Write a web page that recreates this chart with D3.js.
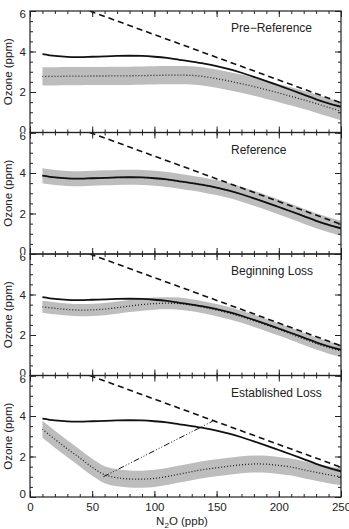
<!DOCTYPE html>
<html>
<head>
<meta charset="utf-8">
<script src="https://cdn.jsdelivr.net/npm/d3@7"></script>
<style>
  body { margin: 0; background: #fff; }
  svg { display: block; font-family: "Liberation Sans", Arial, sans-serif; }
  .tick text { fill: #222; }
</style>
</head>
<body>
<div id="chart"></div>
<script>
// N2O grid (ppb) shared by every curve
const n2o = [10, 20, 30, 40, 50, 60, 70, 80, 90, 100, 110, 120, 130, 140, 150, 160, 170, 180, 190, 200, 210, 220, 230, 240, 250];

// Reference fit (solid), same in every panel
const referenceOzone = [3.87, 3.78, 3.73, 3.72, 3.74, 3.76, 3.78, 3.79, 3.78, 3.74, 3.68, 3.59, 3.50, 3.40, 3.28, 3.13, 2.95, 2.75, 2.54, 2.32, 2.10, 1.87, 1.64, 1.44, 1.27];

// Dashed line end points
const dashedN2o = [48, 250];
const dashedOzone = [6.0, 1.47];

// Per-panel fits (dotted) and the half-width of their grey band
const panelNames = ["Pre\u2212Reference", "Reference", "Beginning Loss", "Established Loss"];
const preRefOzone = [2.77, 2.77, 2.78, 2.78, 2.79, 2.79, 2.80, 2.80, 2.81, 2.82, 2.83, 2.83, 2.82, 2.76, 2.66, 2.54, 2.41, 2.27, 2.11, 1.95, 1.78, 1.61, 1.43, 1.24, 1.05];
const refOzone = referenceOzone;
const beginLossOzone = [3.39, 3.32, 3.26, 3.23, 3.24, 3.28, 3.35, 3.43, 3.50, 3.55, 3.57, 3.55, 3.47, 3.36, 3.23, 3.08, 2.90, 2.70, 2.49, 2.27, 2.04, 1.81, 1.58, 1.38, 1.22];
const estLossOzone = [3.34, 2.85, 2.38, 1.93, 1.47, 1.10, 0.95, 0.89, 0.88, 0.92, 1.01, 1.13, 1.25, 1.36, 1.44, 1.52, 1.59, 1.63, 1.62, 1.56, 1.48, 1.34, 1.22, 1.10, 1.00];
const panelFits = [preRefOzone, refOzone, beginLossOzone, estLossOzone];
const bandHalfWidth = [0.45, 0.37, 0.3, 0.42];

// Dash-dot segment in the last panel
const lossN2o = [59, 147];
const lossOzone = [1.0, 3.75];

const xTicks = [0, 50, 100, 150, 200, 250];
const yTicks = [0, 2, 4, 6];

const width = 349, height = 529;
const margin = { top: 11, left: 30, right: 8 };
const panelH = 121.5;
const innerW = width - margin.left - margin.right;

const svg = d3.select("#chart").append("svg").attr("width", width).attr("height", height);
const defs = svg.append("defs");

const x = d3.scaleLinear().domain([0, 250]).range([margin.left, margin.left + innerW]);
const ink = "#222";

panelNames.forEach((name, i) => {
  const top = margin.top + i * panelH;
  const bottom = top + panelH;
  const y = d3.scaleLinear().domain([0, 6]).range([bottom, top]);

  // clip for marks
  defs.append("clipPath").attr("id", "plot" + i)
    .append("rect").attr("x", x(0)).attr("y", top).attr("width", innerW).attr("height", panelH);
  // clip for y labels (panels share their edges)
  const clipTop = i === 0 ? 0 : top;
  const clipBottom = i === panelNames.length - 1 ? height : bottom;
  defs.append("clipPath").attr("id", "lab" + i)
    .append("rect").attr("x", 0).attr("width", margin.left)
    .attr("y", clipTop).attr("height", clipBottom - clipTop);

  const g = svg.append("g");
  const marks = g.append("g").attr("clip-path", `url(#plot${i})`);

  const fit = panelFits[i];
  const pts = n2o.map((d, k) => ({ x: d, y: fit[k] }));
  const curve = d3.curveCatmullRom;

  const area = d3.area().curve(curve)
    .x(d => x(d.x))
    .y0(d => y(d.y - bandHalfWidth[i]))
    .y1(d => y(d.y + bandHalfWidth[i]));
  marks.append("path").attr("d", area(pts)).attr("fill", "#bdbdbd");

  const line = d3.line().curve(curve).x(d => x(d.x)).y(d => y(d.y));
  marks.append("path").attr("d", line(pts))
    .attr("fill", "none").attr("stroke", ink).attr("stroke-width", 1.3)
    .attr("stroke-dasharray", "1,2");

  const refPts = n2o.map((d, k) => ({ x: d, y: referenceOzone[k] }));
  marks.append("path").attr("d", line(refPts))
    .attr("fill", "none").attr("stroke", "#111").attr("stroke-width", 1.8);

  const dashPts = dashedN2o.map((d, k) => ({ x: d, y: dashedOzone[k] }));
  marks.append("path").attr("d", d3.line().x(d => x(d.x)).y(d => y(d.y))(dashPts))
    .attr("fill", "none").attr("stroke", "#111").attr("stroke-width", 1.6)
    .attr("stroke-dasharray", "6,4");

  if (i === 3) {
    const lossPts = lossN2o.map((d, k) => ({ x: d, y: lossOzone[k] }));
    marks.append("path").attr("d", d3.line().x(d => x(d.x)).y(d => y(d.y))(lossPts))
      .attr("fill", "none").attr("stroke", "#111").attr("stroke-width", 1)
      .attr("stroke-dasharray", "6,2,1,2,1,2,1,2");
  }

  // ticks on all four sides, pointing in
  const tickStyle = sel => {
    sel.select(".domain").remove();
    sel.selectAll(".tick line").attr("stroke", ink).attr("stroke-width", 1);
  };
  const minorX = d3.range(0, 251, 10);
  const minorY = d3.range(0, 6.01, 0.5);
  g.append("g").attr("transform", `translate(0,${bottom})`)
    .call(d3.axisBottom(x).tickValues(minorX).tickSize(-3).tickFormat("")).call(tickStyle);
  g.append("g").attr("transform", `translate(0,${bottom})`)
    .call(d3.axisBottom(x).tickValues(xTicks).tickSize(-6).tickFormat("")).call(tickStyle);
  g.append("g").attr("transform", `translate(0,${top})`)
    .call(d3.axisTop(x).tickValues(minorX).tickSize(-3).tickFormat("")).call(tickStyle);
  g.append("g").attr("transform", `translate(0,${top})`)
    .call(d3.axisTop(x).tickValues(xTicks).tickSize(-6).tickFormat("")).call(tickStyle);
  g.append("g").attr("transform", `translate(${x(0)},0)`)
    .call(d3.axisLeft(y).tickValues(minorY).tickSize(-3).tickFormat("")).call(tickStyle);
  g.append("g").attr("transform", `translate(${x(250)},0)`)
    .call(d3.axisRight(y).tickValues(minorY).tickSize(-3).tickFormat("")).call(tickStyle);
  g.append("g").attr("transform", `translate(${x(250)},0)`)
    .call(d3.axisRight(y).tickValues(yTicks).tickSize(-6).tickFormat("")).call(tickStyle);
  g.append("g").attr("transform", `translate(${x(0)},0)`)
    .call(d3.axisLeft(y).tickValues(yTicks).tickSize(-6).tickFormat("")).call(tickStyle);

  // y labels, clipped so neighbouring panels share the edge label;
  // the end labels sit a little inside the panel
  const labelWrap = g.append("g").attr("clip-path", `url(#lab${i})`);
  const yAxis = labelWrap.append("g").attr("transform", `translate(${x(0)},0)`)
    .call(d3.axisLeft(y).tickValues(yTicks).tickSize(0).tickPadding(4).tickFormat(d3.format("d")))
    .call(tickStyle);
  yAxis.selectAll(".tick text").attr("font-size", 11.5).attr("font-family", null)
    .attr("y", d => (d === 6 ? 3 : d === 0 ? -3 : 0));

  // frame
  g.append("rect").attr("x", x(0)).attr("y", top).attr("width", innerW).attr("height", panelH)
    .attr("fill", "none").attr("stroke", ink).attr("stroke-width", 1.2);

  g.append("text").attr("x", 231).attr("y", top + 21)
    .attr("font-size", 12).attr("fill", ink).text(name);

  g.append("text")
    .attr("transform", `translate(12,${(top + bottom) / 2}) rotate(-90)`)
    .attr("text-anchor", "middle").attr("font-size", 11.5).attr("fill", ink)
    .text("Ozone (ppm)");

  if (i === panelNames.length - 1) {
    const xAxis = g.append("g").attr("transform", `translate(0,${bottom})`)
      .call(d3.axisBottom(x).tickValues(xTicks).tickSize(0).tickPadding(6).tickFormat(d3.format("d")))
      .call(tickStyle);
    xAxis.selectAll(".tick text").attr("font-size", 11.5).attr("font-family", null);

    const lab = g.append("text").attr("x", 182).attr("y", bottom + 28)
      .attr("text-anchor", "middle").attr("font-size", 11.5).attr("fill", ink);
    lab.append("tspan").text("N");
    lab.append("tspan").attr("font-size", 8).attr("dy", 3).text("2");
    lab.append("tspan").attr("dy", -3).text("O (ppb)");
  }
});
</script>
</body>
</html>
